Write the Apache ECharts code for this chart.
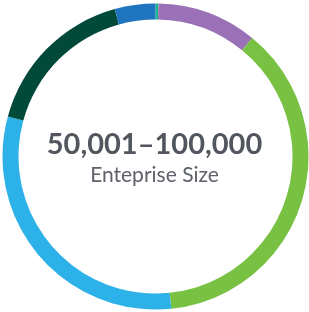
<!DOCTYPE html>
<html><head><meta charset="utf-8">
<script src="https://cdn.jsdelivr.net/npm/echarts@6/dist/echarts.min.js"></script>
<style>html,body{margin:0;padding:0;background:#fff}#c{width:309px;height:312px}</style>
</head><body><div id="c"></div>
<script>
const categories = ['Teal', 'Purple', 'Green', 'Light Blue', 'Dark Green', 'Blue'];
const values = [0.3, 10.6, 37.5, 30.9, 16.5, 4.3];
const colors = ['#1bb58a', '#9a71b6', '#78c143', '#2cb1e8', '#014a3a', '#1f74bf'];
const titleText = '50,001–100,000';
const subtitleText = 'Enteprise Size';

const chart = echarts.init(document.getElementById('c'));
chart.setOption({
  animation: false,
  series: [{
    type: 'pie',
    radius: [137, 153],
    center: [155.5, 156.5],
    startAngle: 90,
    clockwise: true,
    label: { show: false },
    labelLine: { show: false },
    itemStyle: { borderWidth: 0 },
    emphasis: { disabled: true },
    data: categories.map((c, i) => ({ name: c, value: values[i], itemStyle: { color: colors[i] } }))
  }],
  graphic: [
    { type: 'text', left: 'center', top: 130, style: { text: titleText, font: 'bold 29px Lato', fill: '#52565e' } },
    { type: 'text', left: 'center', top: 165, style: { text: subtitleText, font: '21px Lato', fill: '#5d6168' } }
  ]
});
</script></body></html>
